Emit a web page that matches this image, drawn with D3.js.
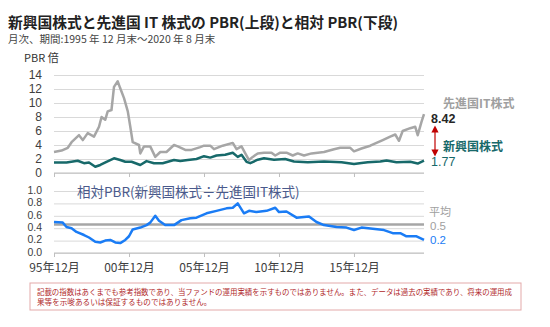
<!DOCTYPE html>
<html><head><meta charset="utf-8">
<script src="https://cdn.jsdelivr.net/npm/d3@7"></script>
<style>
html,body{margin:0;padding:0;background:#fff;}
svg{display:block;font-family:"Liberation Sans","Noto Sans CJK JP",sans-serif;}
</style></head>
<body><svg id="c" width="550" height="327"></svg>
<script>
// ---- data ----
const itDates = ["1995-12","1996-06","1996-11","1997-02","1997-08","1997-11","1998-03","1998-08","1998-12","1999-02","1999-05","1999-07","1999-10","1999-12","2000-03","2000-05","2000-08","2000-11","2001-01","2001-03","2001-08","2001-09","2001-12","2002-05","2002-09","2003-01","2003-06","2003-12","2004-03","2004-09","2005-02","2005-09","2005-12","2006-05","2006-08","2007-03","2007-11","2008-02","2008-06","2008-09","2008-12","2009-03","2009-07","2009-12","2010-06","2010-09","2011-01","2011-06","2011-11","2012-03","2012-08","2013-02","2013-12","2014-08","2015-01","2015-09","2015-12","2016-06","2017-01","2017-06","2017-11","2018-05","2018-09","2018-12","2019-03","2019-09","2020-01","2020-03","2020-06","2020-08"];
const itPBR = [3.0,3.2,3.6,4.4,5.4,4.7,5.7,5.2,6.6,8.0,7.6,8.8,9.0,12.3,13.1,12.1,10.7,8.8,6.6,4.4,4.0,2.8,3.8,3.8,2.3,3.0,3.0,4.0,3.8,3.3,3.3,3.7,3.9,3.9,3.4,3.9,4.3,3.4,3.8,2.8,1.85,2.3,2.8,2.9,2.9,2.5,2.9,2.9,2.5,2.8,2.5,2.8,3.0,3.4,3.6,3.6,3.1,3.5,3.9,4.3,4.7,5.2,5.5,4.6,6.0,6.4,6.6,5.4,7.3,8.42];

const emDates = ["1995-12","1996-10","1997-07","1997-12","1998-04","1998-09","1999-01","1999-06","1999-12","2000-05","2000-09","2001-02","2001-09","2002-02","2002-08","2003-03","2003-12","2004-05","2004-11","2005-06","2005-12","2006-05","2006-10","2007-05","2007-11","2008-03","2008-06","2008-10","2009-01","2009-07","2009-12","2010-08","2011-05","2011-12","2012-11","2013-12","2015-02","2015-12","2016-06","2016-11","2017-09","2018-02","2018-10","2019-09","2020-03","2020-08"];
const emPBR = [1.5,1.5,1.75,1.4,1.5,0.9,1.15,1.6,2.1,1.85,1.6,1.6,1.15,1.7,1.4,1.4,1.85,1.7,1.85,2.0,2.4,2.2,2.5,2.6,2.9,2.3,2.6,1.6,1.4,1.9,2.1,1.9,2.0,1.65,1.55,1.65,1.55,1.3,1.43,1.55,1.65,1.8,1.55,1.6,1.35,1.77];

const relDates = ["1995-12","1996-07","1996-10","1997-02","1997-06","1997-12","1998-04","1998-09","1999-01","1999-05","1999-09","2000-01","2000-05","2000-09","2000-12","2001-03","2001-09","2002-02","2002-05","2002-09","2002-12","2003-05","2003-12","2004-06","2005-01","2005-06","2006-02","2006-10","2007-06","2007-11","2008-03","2008-08","2008-12","2009-06","2010-02","2010-09","2010-12","2011-06","2012-02","2012-12","2013-06","2013-12","2014-10","2015-06","2015-12","2016-06","2017-03","2017-12","2018-07","2019-01","2019-06","2020-02","2020-08"];
const relPBR = [0.50,0.49,0.42,0.40,0.34,0.29,0.25,0.18,0.17,0.20,0.21,0.17,0.16,0.21,0.27,0.38,0.41,0.45,0.49,0.60,0.52,0.45,0.45,0.53,0.56,0.57,0.64,0.68,0.72,0.73,0.80,0.64,0.68,0.66,0.68,0.73,0.66,0.67,0.57,0.59,0.50,0.45,0.42,0.41,0.37,0.41,0.39,0.37,0.32,0.32,0.27,0.27,0.21];

const relAverage = 0.46;
const upperTicks = [0,2,4,6,8,10,12,14];
const lowerTicks = [0,0.2,0.4,0.6,0.8,1.0];
const xTickDates = ["1995-12","2000-12","2005-12","2010-12","2015-12"];
const xDomain = ["1995-12","2020-08"];

const title = "新興国株式と先進国 IT 株式の PBR(上段)と相対 PBR(下段)";
const subtitle = "月次、期間:1995 年 12 月末～2020 年 8 月末";
const disclaimer = ["記載の指数はあくまでも参考指数であり、当ファンドの運用実績を示すものではありません。また、データは過去の実績であり、将来の運用成",
                    "果等を示唆あるいは保証するものではありません。"];

// ---- drawing ----
const parse = d3.utcParse("%Y-%m");
const svg = d3.select("#c");
const L = 54, R = 424;
const x = d3.scaleUtc().domain(xDomain.map(parse)).range([L, R]);
const yU = d3.scaleLinear().domain([0,14]).range([173, 75]);
const yL = d3.scaleLinear().domain([0,1]).range([253, 191]);

const JP = '"Noto Sans CJK JP","Liberation Sans",sans-serif';
const LS = '"Liberation Sans",sans-serif';

// title
svg.append("text").attr("x",8).attr("y",28).attr("font-family",JP).attr("font-weight","bold")
  .attr("font-size",14.5).attr("fill","#222").attr("textLength",390).attr("lengthAdjust","spacingAndGlyphs").text(title);
svg.append("text").attr("x",8).attr("y",43).attr("font-family",JP)
  .attr("font-size",10.5).attr("fill","#444").text(subtitle);
svg.append("text").attr("x",24).attr("y",62).attr("font-family",JP)
  .attr("font-size",11).attr("fill","#333").text("PBR 倍");

function yAxis(scale, ticks, fmt, fs, dy){
  const g = svg.append("g").attr("transform",`translate(${L},0)`)
    .call(d3.axisLeft(scale).tickValues(ticks).tickFormat(fmt).tickSize(-(R-L)).tickPadding(12));
  g.select(".domain").remove();
  g.selectAll(".tick line").attr("stroke","#d9d9d9").attr("stroke-width",1);
  g.selectAll(".tick text").attr("fill","#404040").attr("font-size",fs).attr("font-family",LS).attr("dy",dy);
  return g;
}
yAxis(yU, upperTicks, d3.format("d"), 12, "0.32em");
yAxis(yL, lowerTicks, d3.format(".1f"), 10.5, "0.22em");

// baselines
svg.append("line").attr("x1",L).attr("x2",R).attr("y1",yU(0)).attr("y2",yU(0)).attr("stroke","#bfbfbf");
svg.append("line").attr("x1",L).attr("x2",R).attr("y1",yL(0)).attr("y2",yL(0)).attr("stroke","#bfbfbf");

// x ticks
const xt = xTickDates.map(parse);
svg.append("g").attr("transform",`translate(0,${yU(0)})`)
  .call(d3.axisBottom(x).tickValues(xt).tickSize(4).tickFormat(""))
  .call(g=>{g.select(".domain").remove(); g.selectAll(".tick line").attr("stroke","#bfbfbf");});
const xa = svg.append("g").attr("transform",`translate(0,${yL(0)})`)
  .call(d3.axisBottom(x).tickValues(xt).tickSize(4).tickPadding(6).tickFormat(d3.utcFormat("%y年%m月")));
xa.select(".domain").remove();
xa.selectAll(".tick line").attr("stroke","#bfbfbf");
xa.selectAll(".tick text").attr("fill","#404040").attr("font-size",12).attr("font-family",JP);

// lines
function series(dates, vals, ys, color, w){
  const pts = dates.map((d,i)=>[parse(d), vals[i]]);
  svg.append("path").datum(pts).attr("fill","none").attr("stroke",color).attr("stroke-width",w)
    .attr("stroke-linejoin","round")
    .attr("d", d3.line().x(d=>x(d[0])).y(d=>ys(d[1])));
}
series(itDates, itPBR, yU, "#a6a6a6", 2.5);
series(emDates, emPBR, yU, "#17696a", 2.5);

// average line lower
svg.append("line").attr("x1",L).attr("x2",R).attr("y1",yL(relAverage)).attr("y2",yL(relAverage))
  .attr("stroke","#a6a6a6").attr("stroke-width",2.5);
series(relDates, relPBR, yL, "#1a7cf5", 2.5);

// right labels upper
svg.append("text").attr("x",443).attr("y",108).attr("font-family",JP).attr("font-weight","bold")
  .attr("font-size",12).attr("fill","#a0a0a0").text("先進国IT株式");
svg.append("text").attr("x",431).attr("y",123).attr("font-size",12.5).attr("font-weight","bold")
  .attr("fill","#262626").attr("font-family",LS).text(d3.format(".2f")(itPBR[itPBR.length-1]));
svg.append("text").attr("x",443).attr("y",151).attr("font-family",JP).attr("font-weight","bold")
  .attr("font-size",12).attr("fill","#17696a").text("新興国株式");
svg.append("text").attr("x",431).attr("y",166).attr("font-size",12.5)
  .attr("fill","#17696a").attr("font-family",LS).text(d3.format(".2f")(emPBR[emPBR.length-1]));

// red double arrow
const defs = svg.append("defs");
defs.append("marker").attr("id","ah").attr("viewBox","0 0 10 10").attr("refX",5).attr("refY",5)
  .attr("markerWidth",6).attr("markerHeight",6).attr("orient","auto-start-reverse")
  .append("path").attr("d","M0,0 L10,5 L0,10 z").attr("fill","#c00000");
svg.append("line").attr("x1",435).attr("x2",435).attr("y1",129).attr("y2",153)
  .attr("stroke","#c00000").attr("stroke-width",1.2)
  .attr("marker-start","url(#ah)").attr("marker-end","url(#ah)");

// lower labels
svg.append("text").attr("x",77).attr("y",197).attr("font-family",JP)
  .attr("font-size",13.5).attr("fill","#4a5a8c").text("相対PBR(新興国株式÷先進国IT株式)");
svg.append("text").attr("x",429).attr("y",216).attr("font-family",JP)
  .attr("font-size",11).attr("fill","#a0a0a0").text("平均");
svg.append("text").attr("x",430).attr("y",230).attr("font-size",11.5)
  .attr("fill","#a0a0a0").attr("font-family",LS).text("0.5");
svg.append("text").attr("x",430).attr("y",244).attr("font-size",11.5)
  .attr("fill","#1a7cf5").attr("font-family",LS).text("0.2");

// disclaimer
svg.append("rect").attr("x",30).attr("y",283).attr("width",491).attr("height",27)
  .attr("fill","#fff").attr("stroke","#e3a9a9").attr("stroke-width",1);
disclaimer.forEach((t,i)=>{
  const tx = svg.append("text").attr("x",37).attr("y",295+i*10).attr("font-family",JP)
    .attr("font-size",7.6).attr("fill","#b0282a").text(t);
  if(i===0) tx.attr("textLength",475).attr("lengthAdjust","spacingAndGlyphs");
});
</script></body></html>
